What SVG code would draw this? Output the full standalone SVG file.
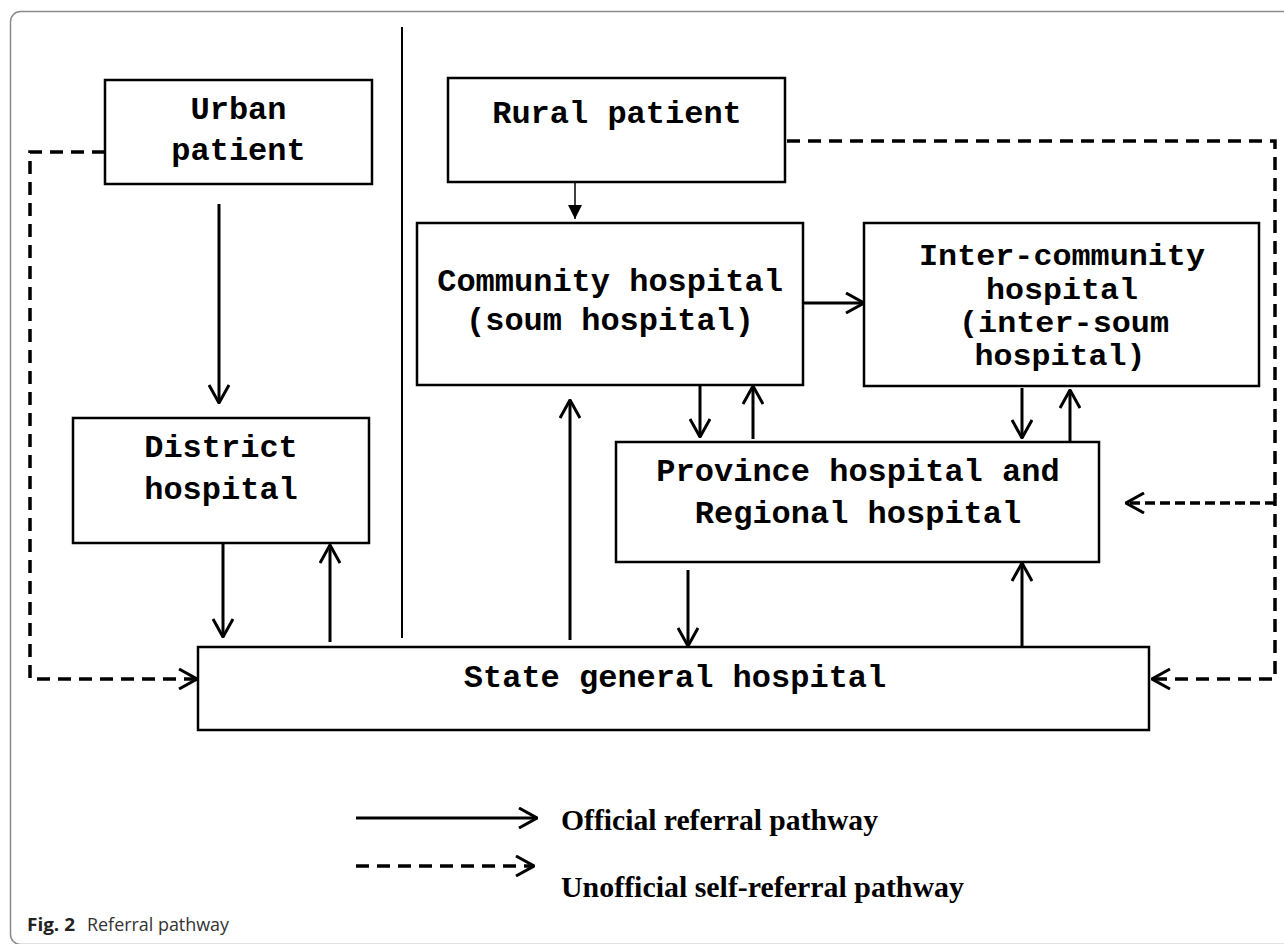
<svg xmlns="http://www.w3.org/2000/svg" width="1284" height="944" viewBox="0 0 1284 944">
<style>
.box{fill:#fff;stroke:#000;stroke-width:2.5}
.lbl{font-family:"Liberation Mono","Courier New",monospace;font-weight:bold;font-size:32px;fill:#000;text-anchor:middle}
.lbs{font-size:29px}
.ln{fill:none;stroke:#000;stroke-width:3}
.thin{fill:none;stroke:#000;stroke-width:1.5}
.dash{fill:none;stroke:#000;stroke-width:3.5;stroke-dasharray:13 8}
.dash2{fill:none;stroke:#000;stroke-width:3.5;stroke-dasharray:10 5}
.leg{font-family:"Liberation Serif","Times New Roman",serif;font-weight:bold;font-size:29px;fill:#000}
.cap{font-family:"Open Sans","Liberation Sans",sans-serif;font-size:18px;fill:#333}
</style>
<defs>
<marker id="open" viewBox="0 0 20 22" refX="19" refY="11" markerWidth="20" markerHeight="22" markerUnits="userSpaceOnUse" orient="auto">
<path d="M1,1 L19,11 L1,21" fill="none" stroke="#000" stroke-width="3" stroke-linejoin="miter"/>
</marker>
<marker id="tri" viewBox="0 0 14 14" refX="14" refY="7" markerWidth="14" markerHeight="14" markerUnits="userSpaceOnUse" orient="auto">
<path d="M0,0 L14,7 L0,14 Z" fill="#000"/>
</marker>
</defs>
<rect width="1284" height="944" fill="#fff"/>
<rect x="10.5" y="11.5" width="1300" height="933" rx="10" ry="10" fill="none" stroke="#8a8a8a" stroke-width="1.5"/>
<line x1="402" y1="27" x2="402" y2="638" stroke="#000" stroke-width="2"/>

<g id="urban">
<rect class="box" x="105" y="80" width="267" height="104"/>
<text class="lbl" x="238.5" y="119">Urban</text>
<text class="lbl" x="238.5" y="160">patient</text>
</g>
<g id="district">
<rect class="box" x="73" y="418" width="296" height="125"/>
<text class="lbl" x="221" y="457">District</text>
<text class="lbl" x="221" y="499">hospital</text>
</g>
<g id="rural">
<rect class="box" x="448" y="78" width="337" height="104"/>
<text class="lbl" x="617" y="123">Rural patient</text>
</g>
<g id="community">
<rect class="box" x="417" y="223" width="386" height="162"/>
<text class="lbl" x="610" y="291">Community hospital</text>
<text class="lbl" x="610" y="330">(soum hospital)</text>
</g>
<g id="intercommunity">
<rect class="box" x="864" y="223" width="395" height="163"/>
<text class="lbl lbs" x="1062" y="265" textLength="286" lengthAdjust="spacingAndGlyphs">Inter-community</text>
<text class="lbl lbs" x="1062" y="299" textLength="152" lengthAdjust="spacingAndGlyphs">hospital</text>
<text class="lbl lbs" x="1064" y="332" textLength="210" lengthAdjust="spacingAndGlyphs">(inter-soum</text>
<text class="lbl lbs" x="1060" y="365" textLength="171" lengthAdjust="spacingAndGlyphs">hospital)</text>
</g>
<g id="province">
<rect class="box" x="616" y="442" width="483" height="120"/>
<text class="lbl" x="858" y="481">Province hospital and</text>
<text class="lbl" x="858" y="523">Regional hospital</text>
</g>
<g id="state">
<rect class="box" x="198" y="647" width="951" height="83"/>
<text class="lbl" x="675" y="687">State general hospital</text>
</g>

<g id="connectors">
<path class="ln" d="M219,204 V403" marker-end="url(#open)"/>
<path class="ln" d="M223,543 V637" marker-end="url(#open)"/>
<path class="ln" d="M330,642 V545" marker-end="url(#open)"/>
<path class="thin" d="M575,183 V219" marker-end="url(#tri)"/>
<path class="ln" d="M803,303 H864" stroke-width="4" marker-end="url(#open)"/>
<path class="ln" d="M700,386 V437" marker-end="url(#open)"/>
<path class="ln" d="M753,439 V386" marker-end="url(#open)"/>
<path class="ln" d="M1022,388 V438" marker-end="url(#open)"/>
<path class="ln" d="M1070,442 V390" marker-end="url(#open)"/>
<path class="ln" d="M570,640 V400" marker-end="url(#open)"/>
<path class="ln" d="M688,570 V646" marker-end="url(#open)"/>
<path class="ln" d="M1022,647 V563" marker-end="url(#open)"/>
<path class="dash" d="M105,152 H30 V679 H197" marker-end="url(#open)"/>
<path class="dash" d="M787,141 H1275 V679 H1152" marker-end="url(#open)"/>
<path class="dash2" d="M1275,503 H1126" marker-end="url(#open)"/>
</g>

<g id="legend">
<path class="ln" d="M356,818 H537" stroke-width="3.5" marker-end="url(#open)"/>
<path class="dash" d="M356,866 H534" stroke-width="4" stroke-dasharray="14 9" marker-end="url(#open)"/>
<text class="leg" x="561" y="830" textLength="317" lengthAdjust="spacingAndGlyphs">Official referral pathway</text>
<text class="leg" x="561" y="897" textLength="403" lengthAdjust="spacingAndGlyphs">Unofficial self-referral pathway</text>
</g>
<text class="cap" x="27" y="931"><tspan font-weight="bold" fill="#222" textLength="48" lengthAdjust="spacingAndGlyphs">Fig. 2</tspan><tspan x="87" textLength="142" lengthAdjust="spacingAndGlyphs">Referral pathway</tspan></text>
</svg>
